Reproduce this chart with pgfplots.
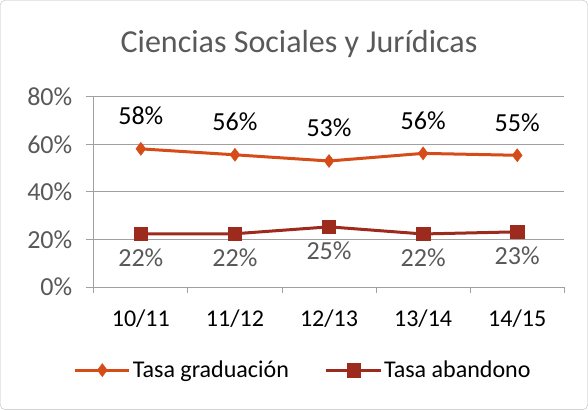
\documentclass[border=0pt]{standalone}
\usepackage{pgfplots}
\pgfplotsset{compat=1.18}
\usepackage{fontspec}
\setmainfont{Carlito}
\definecolor{grad}{RGB}{214,76,24}
\definecolor{aband}{RGB}{156,43,30}
\definecolor{gridc}{RGB}{160,160,160}
\definecolor{labgray}{RGB}{89,89,89}
\begin{document}
\begin{tikzpicture}
\draw[gridc!70, rounded corners=5bp] (0.5bp,0.5bp) rectangle (587.5bp,409.5bp);
\node at (299bp,366bp) {\fontsize{32bp}{36bp}\selectfont\color{labgray}Ciencias Sociales y Jurídicas};
\begin{axis}[
  at={(94bp,123bp)}, anchor=south west,
  scale only axis, width=470bp, height=190bp,
  xmin=-0.5, xmax=4.5, ymin=0, ymax=80,
  xtick={0,1,2,3,4},
  xticklabels={10/11,11/12,12/13,13/14,14/15},
  minor xtick={-0.5,0.5,1.5,2.5,3.5,4.5},
  ytick={0,20,40,60,80},
  yticklabel={\pgfmathprintnumber{\tick}\%},
  /pgf/number format/assume math mode=true,
  ymajorgrids, major grid style={gridc, line width=0.8bp},
  axis x line*=bottom, axis y line*=left,
  axis line style={gridc, line width=0.8bp},
  x axis line style={-}, y axis line style={-},
  major x tick style={draw=none},
  minor x tick style={gridc, line width=0.8bp},
  minor tick length=6bp,
  y tick style={gridc, line width=0.8bp},
  major tick length=8bp,
  tick align=outside,
  every tick label/.append style={font=\fontsize{24bp}{28bp}\selectfont, text=black},
  yticklabel style={text=labgray, xshift=-10bp, font=\fontsize{26bp}{30bp}\selectfont},
  xticklabel style={yshift=-11bp},
  legend style={at={(0.445,-0.437)}, anchor=center, draw=none, legend columns=2,
    font=\fontsize{24bp}{28bp}\selectfont,
    /tikz/every even column/.append style={column sep=34bp},
    /tikz/every odd column/.append style={column sep=0bp},
    inner sep=0pt},
  legend cell align=left,
  legend image code/.code={%
    \draw[#1, mark repeat=2, mark phase=2] plot coordinates {(0bp,0bp) (27bp,0bp) (54bp,0bp)};},
  clip=false,
]
\addplot[grad, line width=3bp, mark=diamond*, mark size=6.5bp, mark options={fill=grad, line width=0.5bp},
  nodes near coords={\pgfmathprintnumber{\pgfplotspointmeta}\%},
  point meta=explicit,
  every node near coord/.append style={font=\fontsize{26bp}{30bp}\selectfont, text=black, anchor=center, yshift=33bp}]
  coordinates {(0,58.1)[58] (1,55.6)[56] (2,53.0)[53] (3,56.2)[56] (4,55.4)[55]};
\addlegendentry{Tasa graduación}
\addplot[aband, line width=3bp, mark=square*, mark size=6.7bp, mark options={fill=aband, line width=0.5bp},
  nodes near coords={\pgfmathprintnumber{\pgfplotspointmeta}\%},
  point meta=explicit,
  every node near coord/.append style={font=\fontsize{26bp}{30bp}\selectfont, text=labgray, anchor=center, yshift=-24bp}]
  coordinates {(0,22.3)[22] (1,22.4)[22] (2,25.3)[25] (3,22.3)[22] (4,23.2)[23]};
\addlegendentry{Tasa abandono}
\end{axis}
\end{tikzpicture}
\end{document}
